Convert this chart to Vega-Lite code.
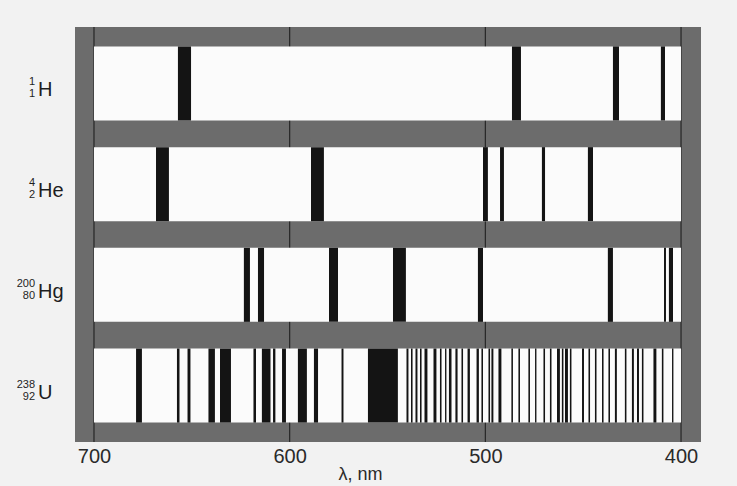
{
  "$schema": "https://vega.github.io/schema/vega-lite/v6.json",
  "width": 626,
  "height": 415,
  "autosize": {"type": "none"},
  "padding": {"left": 75, "top": 27, "right": 36, "bottom": 44},
  "background": "#f2f2f2",
  "config": {
    "view": {"fill": "#6c6c6c", "stroke": null},
    "font": "Liberation Sans"
  },
  "datasets": {
    "bands": [
      {"el": "H", "from": 700, "to": 400},
      {"el": "He", "from": 700, "to": 400},
      {"el": "Hg", "from": 700, "to": 400},
      {"el": "U", "from": 700, "to": 400}
    ],
    "ticks": [{"nm": 700}, {"nm": 600}, {"nm": 500}, {"nm": 400}],
    "labels": [
      {"el": "H", "sym": "H", "mass": "1", "z": "1"},
      {"el": "He", "sym": "He", "mass": "4", "z": "2"},
      {"el": "Hg", "sym": "Hg", "mass": "200", "z": "80"},
      {"el": "U", "sym": "U", "mass": "238", "z": "92"}
    ],
    "lines": [
      {"el": "H", "from": 657.1, "to": 650.4},
      {"el": "H", "from": 486.4, "to": 481.8},
      {"el": "H", "from": 434.8, "to": 431.7},
      {"el": "H", "from": 410.3, "to": 408.2},
      {"el": "He", "from": 668.3, "to": 661.7},
      {"el": "He", "from": 589.1, "to": 582.5},
      {"el": "He", "from": 501.2, "to": 498.7},
      {"el": "He", "from": 492.5, "to": 490.5},
      {"el": "He", "from": 471.1, "to": 469.5},
      {"el": "He", "from": 447.6, "to": 445.0},
      {"el": "Hg", "from": 623.4, "to": 620.3},
      {"el": "Hg", "from": 616.2, "to": 613.1},
      {"el": "Hg", "from": 579.9, "to": 575.3},
      {"el": "Hg", "from": 547.2, "to": 540.6},
      {"el": "Hg", "from": 503.8, "to": 501.2},
      {"el": "Hg", "from": 437.4, "to": 434.8},
      {"el": "Hg", "from": 408.7, "to": 407.7},
      {"el": "Hg", "from": 406.2, "to": 404.1},
      {"el": "U", "from": 678.5, "to": 675.5},
      {"el": "U", "from": 657.6, "to": 656.3},
      {"el": "U", "from": 652.2, "to": 650.7},
      {"el": "U", "from": 641.5, "to": 638.2},
      {"el": "U", "from": 635.6, "to": 630.0},
      {"el": "U", "from": 618.5, "to": 617.2},
      {"el": "U", "from": 614.2, "to": 609.8},
      {"el": "U", "from": 608.5, "to": 607.3},
      {"el": "U", "from": 603.9, "to": 601.9},
      {"el": "U", "from": 595.8, "to": 591.2},
      {"el": "U", "from": 587.6, "to": 585.5},
      {"el": "U", "from": 573.5, "to": 572.5},
      {"el": "U", "from": 560.0, "to": 544.7},
      {"el": "U", "from": 540.3, "to": 539.3},
      {"el": "U", "from": 538.0, "to": 537.2},
      {"el": "U", "from": 535.7, "to": 534.7},
      {"el": "U", "from": 533.4, "to": 532.6},
      {"el": "U", "from": 531.1, "to": 529.6},
      {"el": "U", "from": 526.5, "to": 525.0},
      {"el": "U", "from": 523.2, "to": 522.4},
      {"el": "U", "from": 520.6, "to": 519.9},
      {"el": "U", "from": 518.6, "to": 517.3},
      {"el": "U", "from": 515.3, "to": 514.2},
      {"el": "U", "from": 512.2, "to": 511.4},
      {"el": "U", "from": 509.1, "to": 507.9},
      {"el": "U", "from": 504.5, "to": 503.3},
      {"el": "U", "from": 502.0, "to": 501.2},
      {"el": "U", "from": 498.4, "to": 497.6},
      {"el": "U", "from": 496.9, "to": 495.9},
      {"el": "U", "from": 493.3, "to": 491.8},
      {"el": "U", "from": 486.7, "to": 485.9},
      {"el": "U", "from": 483.1, "to": 482.3},
      {"el": "U", "from": 478.0, "to": 477.2},
      {"el": "U", "from": 474.6, "to": 473.9},
      {"el": "U", "from": 470.3, "to": 469.5},
      {"el": "U", "from": 467.0, "to": 466.2},
      {"el": "U", "from": 463.4, "to": 461.9},
      {"el": "U", "from": 460.9, "to": 460.1},
      {"el": "U", "from": 459.3, "to": 457.8},
      {"el": "U", "from": 456.8, "to": 456.0},
      {"el": "U", "from": 450.6, "to": 449.6},
      {"el": "U", "from": 447.3, "to": 446.5},
      {"el": "U", "from": 444.0, "to": 443.2},
      {"el": "U", "from": 440.4, "to": 439.6},
      {"el": "U", "from": 437.1, "to": 436.3},
      {"el": "U", "from": 433.8, "to": 432.8},
      {"el": "U", "from": 428.7, "to": 427.9},
      {"el": "U", "from": 425.1, "to": 424.1},
      {"el": "U", "from": 422.5, "to": 421.5},
      {"el": "U", "from": 420.0, "to": 419.2},
      {"el": "U", "from": 414.1, "to": 412.6},
      {"el": "U", "from": 409.8, "to": 409.0},
      {"el": "U", "from": 404.6, "to": 403.9}
    ]
  },
  "layer": [
    {
      "data": {"name": "ticks"},
      "mark": {"type": "rule", "color": "#262626", "strokeWidth": 1.2},
      "encoding": {
        "x": {
          "field": "nm",
          "type": "quantitative",
          "scale": {"domain": [389.8, 709.7], "reverse": true, "nice": false, "zero": false},
          "axis": {
            "values": [700, 600, 500, 400],
            "ticks": false,
            "domain": false,
            "grid": false,
            "labelFontSize": 20,
            "labelColor": "#2a2a2a",
            "labelPadding": 4,
            "labelFlush": false,
            "title": "λ, nm",
            "titleFontSize": 18,
            "titleFontWeight": "normal",
            "titleColor": "#2a2a2a",
            "titlePadding": -1,
            "titleX": 285
          }
        }
      }
    },
    {
      "data": {"name": "bands"},
      "mark": {"type": "rect", "color": "#fbfbfb"},
      "encoding": {
        "x": {"field": "from", "type": "quantitative"},
        "x2": {"field": "to"},
        "y": {
          "field": "el",
          "type": "nominal",
          "scale": {"domain": ["H", "He", "Hg", "U"], "paddingInner": 0.265, "paddingOuter": 0.193},
          "axis": null
        }
      }
    },
    {
      "data": {"name": "lines"},
      "mark": {"type": "rect", "color": "#141414"},
      "encoding": {
        "x": {"field": "from", "type": "quantitative"},
        "x2": {"field": "to"},
        "y": {"field": "el", "type": "nominal", "axis": null}
      }
    },
    {
      "data": {"name": "labels"},
      "mark": {"type": "text", "align": "left", "baseline": "alphabetic", "dy": 13, "fontSize": 20, "color": "#1e1e1e"},
      "encoding": {
        "x": {"datum": 728.6, "type": "quantitative"},
        "y": {"field": "el", "type": "nominal", "axis": null},
        "text": {"field": "sym"}
      }
    },
    {
      "data": {"name": "labels"},
      "mark": {"type": "text", "align": "right", "baseline": "alphabetic", "dy": 2, "fontSize": 11, "color": "#1e1e1e"},
      "encoding": {
        "x": {"datum": 730.1, "type": "quantitative"},
        "y": {"field": "el", "type": "nominal", "axis": null},
        "text": {"field": "mass"}
      }
    },
    {
      "data": {"name": "labels"},
      "mark": {"type": "text", "align": "right", "baseline": "alphabetic", "dy": 14, "fontSize": 11, "color": "#1e1e1e"},
      "encoding": {
        "x": {"datum": 730.1, "type": "quantitative"},
        "y": {"field": "el", "type": "nominal", "axis": null},
        "text": {"field": "z"}
      }
    }
  ]
}
